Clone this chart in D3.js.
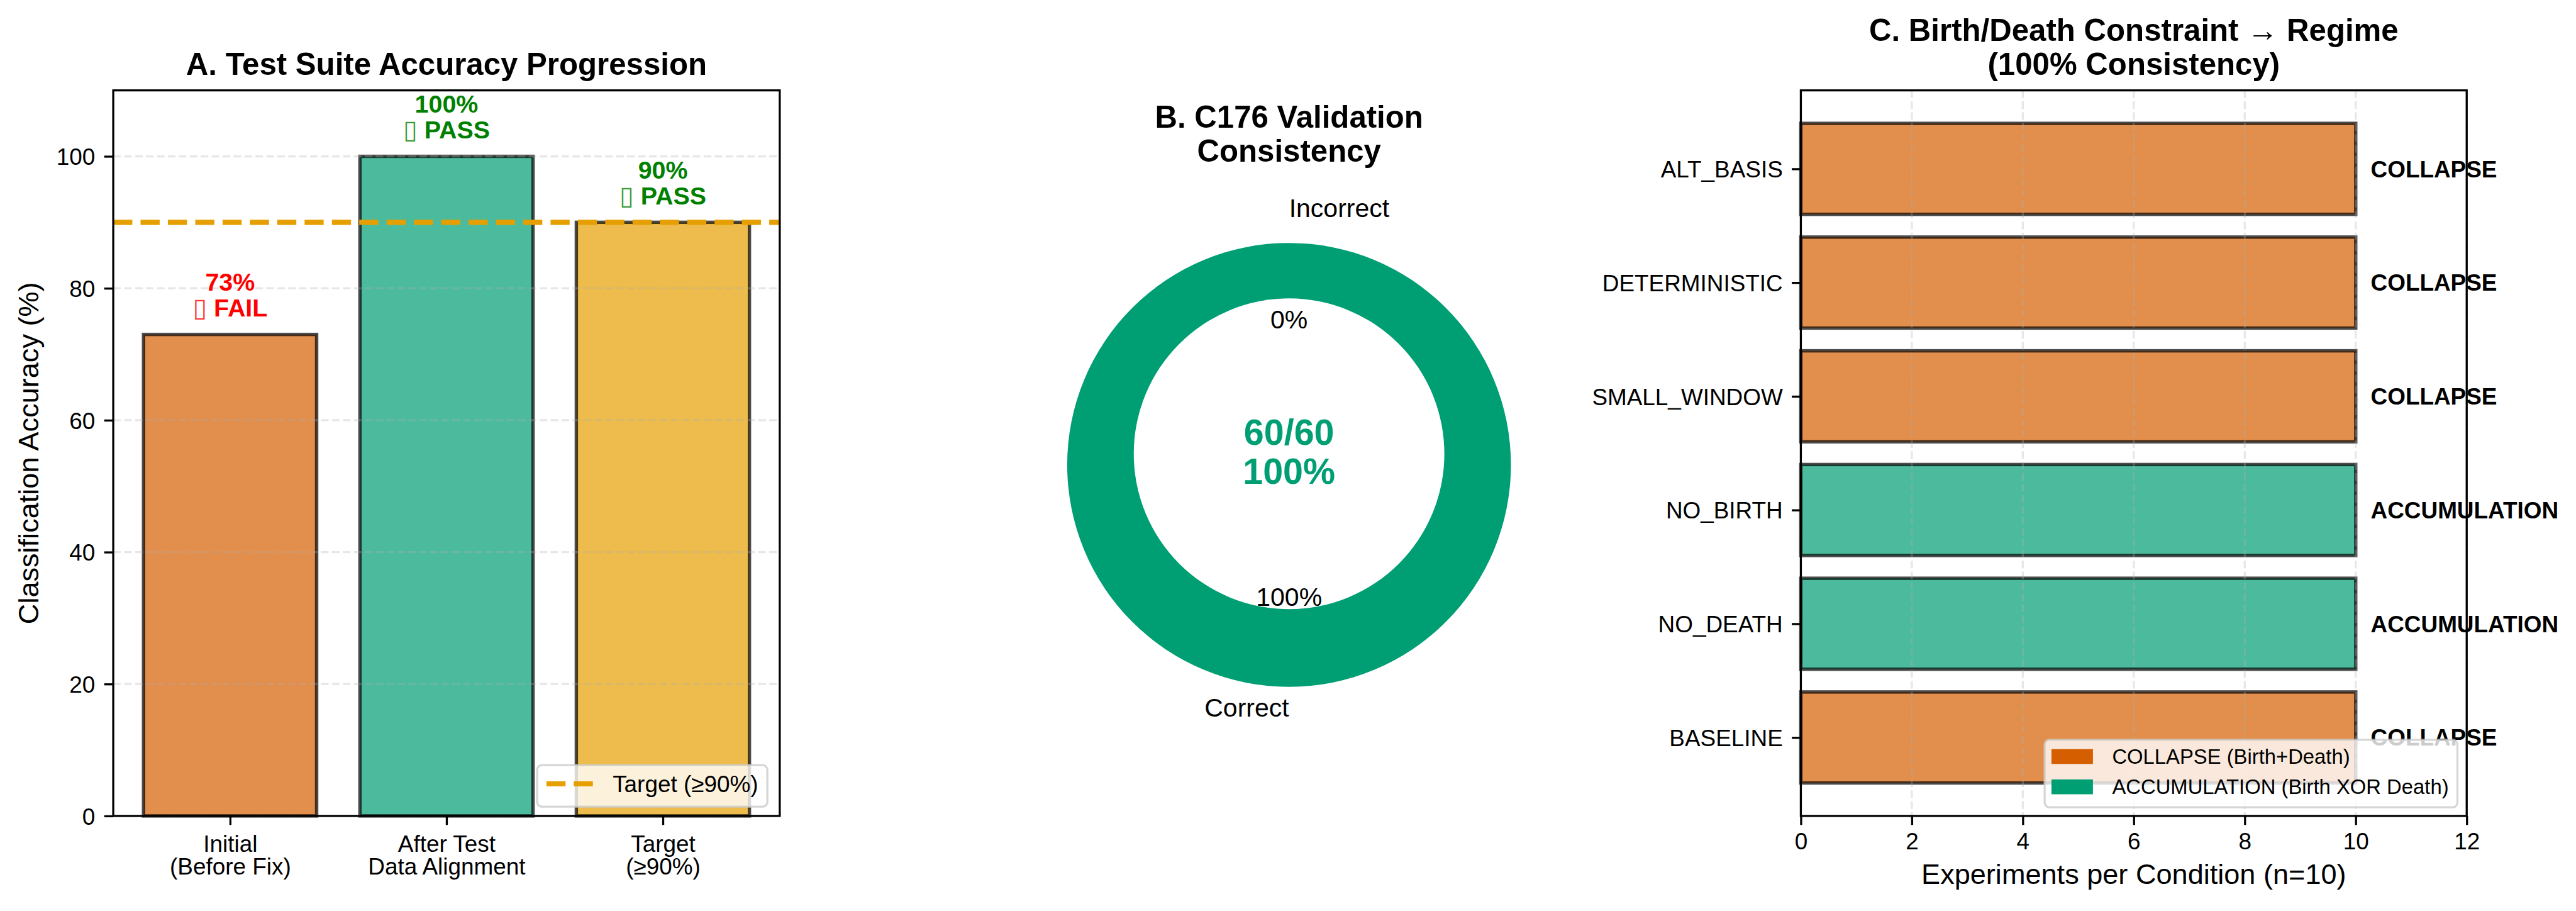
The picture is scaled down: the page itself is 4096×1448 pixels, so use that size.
<!DOCTYPE html>
<html>
<head>
<meta charset="utf-8">
<script src="https://cdn.jsdelivr.net/npm/d3@7"></script>
<style>
  body { margin: 0; background: #fff; }
  svg { display: block; }
  text { font-family: "Liberation Sans", Arial, sans-serif; }
</style>
</head>
<body>
<svg id="chart" width="4096" height="1448"></svg>
<script>
// ---------------- DATA ----------------
// Panel A
const accCategories = ["Initial\n(Before Fix)", "After Test\nData Alignment", "Target\n(≥90%)"];
const accValues = [73, 100, 90];
const accColors = ["#D55E00", "#009E73", "#E69F00"];
const accStatus = ["▯ FAIL", "▯ PASS", "▯ PASS"];
const accStatusColors = ["#FF0000", "#008000", "#008000"];
const accTarget = 90;
const accYTicks = [0, 20, 40, 60, 80, 100];
const accLegend = ["Target (≥90%)"];

// Panel B
const pieLabels = ["Correct", "Incorrect"];
const pieValues = [60, 0];
const pieColors = ["#009E73", "#D55E00"];
const pieExplode = [0.05, 0];

// Panel C
const conditions = ["BASELINE", "NO_DEATH", "NO_BIRTH", "SMALL_WINDOW", "DETERMINISTIC", "ALT_BASIS"];
const experiments = [10, 10, 10, 10, 10, 10];
const regimes = ["COLLAPSE", "ACCUMULATION", "ACCUMULATION", "COLLAPSE", "COLLAPSE", "COLLAPSE"];
const regimeNames = ["COLLAPSE", "ACCUMULATION"];
const regimeColors = ["#D55E00", "#009E73"];
const regimeLegend = ["COLLAPSE (Birth+Death)", "ACCUMULATION (Birth XOR Death)"];
const expXTicks = [0, 2, 4, 6, 8, 10, 12];

// ---------------- SETUP ----------------
const S = 0.984;
const PT = 300 / 72;
const TICK_FS = 9 * PT, TITLE_FS = 12 * PT, LABEL_FS = 11 * PT, PIE_FS = 10 * PT;
const LW = 0.8 * PT, TICKLEN = 3.5 * PT;
const GRID_DASH = `${3.7 * 0.8 * PT},${1.6 * 0.8 * PT}`;
const BAR_LW = 5.5;

const svg = d3.select("#chart");
svg.append("rect").attr("width", 4096).attr("height", 1448).attr("fill", "#fff");
const root = svg.append("g").attr("transform", `scale(${S})`);

function styleAxis(g) {
  g.select(".domain").remove();
  g.selectAll(".tick line").attr("stroke", "#000").attr("stroke-width", LW);
  g.selectAll(".tick text").attr("fill", "#000")
    .style("font-family", '"Liberation Sans", Arial, sans-serif')
    .style("font-size", TICK_FS + "px");
}

function legendFrame(g, x, y, w, h) {
  g.append("rect").attr("x", x).attr("y", y).attr("width", w).attr("height", h)
    .attr("rx", 7.5).attr("ry", 7.5)
    .attr("fill", "#fff").attr("fill-opacity", 0.8)
    .attr("stroke", "#cccccc").attr("stroke-opacity", 0.8).attr("stroke-width", LW);
}

// ---------------- PANEL A ----------------
const A = { left: 183, right: 1260, top: 146, bottom: 1318 };
const xA = d3.scaleLinear().domain([-0.54, 2.54]).range([A.left, A.right]);
const yA = d3.scaleLinear().domain([0, 110]).range([A.bottom, A.top]);
const gA = root.append("g");

gA.selectAll("rect.bar").data(accValues).join("rect").attr("class", "bar")
  .attr("x", (d, i) => xA(i - 0.4)).attr("width", (d, i) => xA(i + 0.4) - xA(i - 0.4))
  .attr("y", d => yA(d)).attr("height", d => yA(0) - yA(d))
  .attr("fill", (d, i) => accColors[i]).attr("fill-opacity", 0.7)
  .attr("stroke", "#000").attr("stroke-opacity", 0.7).attr("stroke-width", BAR_LW);

gA.selectAll("line.grid").data(accYTicks).join("line").attr("class", "grid")
  .attr("x1", A.left).attr("x2", A.right).attr("y1", d => yA(d)).attr("y2", d => yA(d))
  .attr("stroke", "#b0b0b0").attr("stroke-opacity", 0.3).attr("stroke-width", LW)
  .attr("stroke-dasharray", GRID_DASH);

gA.append("line")
  .attr("x1", A.left).attr("x2", A.right).attr("y1", yA(accTarget)).attr("y2", yA(accTarget))
  .attr("stroke", "#E69F00").attr("stroke-width", 2 * PT)
  .attr("stroke-dasharray", `${7.4 * PT},${3.2 * PT}`);

// value labels
accValues.forEach((v, i) => {
  const b2 = yA(v + 3) + 3;
  const t = gA.append("text").attr("text-anchor", "middle")
    .attr("fill", accStatusColors[i]).style("font-weight", "bold").style("font-size", "40px");
  t.append("tspan").attr("x", xA(i)).attr("y", b2 - 42).text(v + "%");
  const l2 = t.append("tspan").attr("x", xA(i)).attr("y", b2);
  const parts = accStatus[i].split(" ");
  l2.append("tspan").style("font-weight", "normal").style("font-size", "42px")
    .style("font-family", '"DejaVu Sans", sans-serif').attr("fill-opacity", 0.8).text(parts[0]);
  l2.append("tspan").text(" " + parts.slice(1).join(" "));
});

// axes
gA.append("g").attr("transform", `translate(${A.left},0)`)
  .call(d3.axisLeft(yA).tickValues(accYTicks).tickSize(TICKLEN).tickPadding(TICKLEN))
  .call(styleAxis)
  .call(g => g.selectAll(".tick text").attr("dy", null).attr("y", 0.358 * TICK_FS));

gA.append("g").attr("transform", `translate(0,${A.bottom})`)
  .call(d3.axisBottom(xA).tickValues([0, 1, 2]).tickSize(TICKLEN).tickFormat(""))
  .call(styleAxis)
  .call(g => g.selectAll(".tick text").each(function (d) {
    const t = d3.select(this).attr("dy", null).attr("y", null);
    accCategories[d].split("\n").forEach((ln, k) => {
      t.append("tspan").attr("x", 0).attr("y", 58 + k * 37).text(ln);
    });
  }));

gA.append("rect").attr("x", A.left).attr("y", A.top)
  .attr("width", A.right - A.left).attr("height", A.bottom - A.top)
  .attr("fill", "none").attr("stroke", "#000").attr("stroke-width", LW);

gA.append("text").attr("transform", `translate(62,${(A.top + A.bottom) / 2}) rotate(-90)`)
  .attr("text-anchor", "middle").style("font-size", LABEL_FS + "px").attr("fill", "#000")
  .text("Classification Accuracy (%)");

gA.append("text").attr("x", (A.left + A.right) / 2).attr("y", 121)
  .attr("text-anchor", "middle").style("font-size", TITLE_FS + "px").style("font-weight", "bold")
  .text("A. Test Suite Accuracy Progression");

// legend A
legendFrame(gA, 868, 1236, 372, 67);
gA.append("line").attr("x1", 883).attr("x2", 958).attr("y1", 1266).attr("y2", 1266)
  .attr("stroke", "#E69F00").attr("stroke-width", 2 * PT)
  .attr("stroke-dasharray", `${7.4 * PT},${3.2 * PT}`);
gA.append("text").attr("x", 990).attr("y", 1279).style("font-size", TICK_FS + "px")
  .text(accLegend[0]);

// ---------------- PANEL B ----------------
const cxB = 2083, cyB = 733;
const rB = d3.scaleLinear().domain([0, 1]).range([0, 358.5]);
const pieTotal = d3.sum(pieValues);
const pieGen = d3.pie().sort(null).startAngle(0).endAngle(-2 * Math.PI);
const arcsB = pieGen(pieValues);
const arcGen = d3.arc().innerRadius(0).outerRadius(rB(1));
const gB = root.append("g");

arcsB.forEach((a, i) => {
  const mid = (a.startAngle + a.endAngle) / 2;
  a.mid = mid;
  a.ox = cxB + Math.sin(mid) * rB(pieExplode[i]);
  a.oy = cyB - Math.cos(mid) * rB(pieExplode[i]);
});

gB.selectAll("path.wedge").data(arcsB.filter(a => a.value > 0)).join("path").attr("class", "wedge")
  .attr("transform", a => `translate(${a.ox},${a.oy})`)
  .attr("d", arcGen).attr("fill", a => pieColors[a.index]);

gB.append("circle").attr("cx", cxB).attr("cy", cyB).attr("r", rB(0.7)).attr("fill", "#fff");

arcsB.forEach((a, i) => {
  const sx = Math.sin(a.mid), cy = -Math.cos(a.mid);
  gB.append("text")
    .attr("x", a.ox + sx * rB(1.1)).attr("y", a.oy + cy * rB(1.1) + 0.358 * PIE_FS - 3)
    .attr("text-anchor", sx > 0 ? "start" : "end")
    .style("font-size", PIE_FS + "px").text(pieLabels[i]);
  gB.append("text")
    .attr("x", a.ox + sx * rB(0.6)).attr("y", a.oy + cy * rB(0.6) + 0.358 * PIE_FS - 2)
    .attr("text-anchor", "middle")
    .style("font-size", PIE_FS + "px").text(Math.round(100 * a.value / pieTotal) + "%");
});

const centerText = gB.append("text").attr("text-anchor", "middle").attr("fill", "#009E73")
  .style("font-size", (14 * PT) + "px").style("font-weight", "bold");
centerText.append("tspan").attr("x", cxB).attr("y", cyB - 15).text(`${pieValues[0]}/${pieTotal}`);
centerText.append("tspan").attr("x", cxB).attr("y", cyB + 48).text(`${Math.round(100 * pieValues[0] / pieTotal)}%`);

const titleB = gB.append("text").attr("text-anchor", "middle")
  .style("font-size", TITLE_FS + "px").style("font-weight", "bold");
titleB.append("tspan").attr("x", cxB).attr("y", 206).text("B. C176 Validation");
titleB.append("tspan").attr("x", cxB).attr("y", 261).text("Consistency");

// ---------------- PANEL C ----------------
const C = { left: 2910, right: 3986, top: 146, bottom: 1318 };
const xC = d3.scaleLinear().domain([0, 12]).range([C.left, C.right]);
const yC = d3.scaleLinear().domain([-0.69, 5.69]).range([C.bottom, C.top]);
const gC = root.append("g");
const regimeColor = r => regimeColors[regimeNames.indexOf(r)];

gC.selectAll("rect.bar").data(experiments).join("rect").attr("class", "bar")
  .attr("x", xC(0)).attr("width", d => xC(d) - xC(0))
  .attr("y", (d, i) => yC(i + 0.4)).attr("height", (d, i) => yC(i - 0.4) - yC(i + 0.4))
  .attr("fill", (d, i) => regimeColor(regimes[i])).attr("fill-opacity", 0.7)
  .attr("stroke", "#000").attr("stroke-opacity", 0.7).attr("stroke-width", BAR_LW);

gC.selectAll("line.grid").data(expXTicks).join("line").attr("class", "grid")
  .attr("y1", C.top).attr("y2", C.bottom).attr("x1", d => xC(d)).attr("x2", d => xC(d))
  .attr("stroke", "#b0b0b0").attr("stroke-opacity", 0.3).attr("stroke-width", LW)
  .attr("stroke-dasharray", GRID_DASH);

gC.append("g").attr("transform", `translate(${C.left},0)`)
  .call(d3.axisLeft(yC).tickValues(d3.range(conditions.length)).tickFormat(i => conditions[i])
    .tickSize(TICKLEN).tickPadding(TICKLEN))
  .call(styleAxis)
  .call(g => g.selectAll(".tick text").attr("dy", null).attr("y", 0.358 * TICK_FS));

gC.append("g").attr("transform", `translate(0,${C.bottom})`)
  .call(d3.axisBottom(xC).tickValues(expXTicks).tickSize(TICKLEN).tickPadding(TICKLEN))
  .call(styleAxis)
  .call(g => g.selectAll(".tick text").attr("dy", null).attr("y", 54));

gC.append("rect").attr("x", C.left).attr("y", C.top)
  .attr("width", C.right - C.left).attr("height", C.bottom - C.top)
  .attr("fill", "none").attr("stroke", "#000").attr("stroke-width", LW);

gC.selectAll("text.reg").data(experiments).join("text").attr("class", "reg")
  .attr("x", d => xC(d + 0.27)).attr("y", (d, i) => yC(i) + 0.358 * TICK_FS)
  .style("font-size", TICK_FS + "px").style("font-weight", "bold")
  .text((d, i) => regimes[i]);

gC.append("text").attr("x", (C.left + C.right) / 2).attr("y", 1428)
  .attr("text-anchor", "middle").style("font-size", LABEL_FS + "px")
  .text("Experiments per Condition (n=10)");

const titleC = gC.append("text").attr("text-anchor", "middle")
  .style("font-size", TITLE_FS + "px").style("font-weight", "bold");
titleC.append("tspan").attr("x", (C.left + C.right) / 2).attr("y", 66).text("C. Birth/Death Constraint → Regime");
titleC.append("tspan").attr("x", (C.left + C.right) / 2).attr("y", 121).text("(100% Consistency)");

// legend C
legendFrame(gC, 3304, 1195, 667, 109);
regimeLegend.forEach((lab, k) => {
  const cy = 1222 + k * 49;
  gC.append("rect").attr("x", 3315).attr("y", cy - 12).attr("width", 67).attr("height", 24)
    .attr("fill", regimeColors[k]);
  gC.append("text").attr("x", 3413).attr("y", cy + 0.358 * 8 * PT)
    .style("font-size", (8 * PT) + "px").text(lab);
});
</script>
</body>
</html>
